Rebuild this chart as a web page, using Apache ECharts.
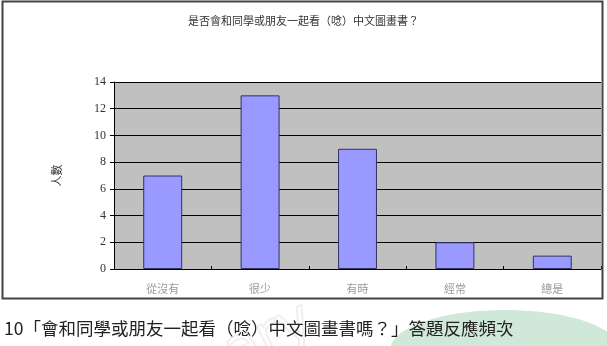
<!DOCTYPE html>
<html>
<head>
<meta charset="utf-8">
<script src="https://cdn.jsdelivr.net/npm/echarts@6/dist/echarts.min.js"></script>
<style>
html,body{margin:0;padding:0;background:#fff;}
#c{width:607px;height:346px;}
</style>
</head>
<body>
<div id="c"></div>
<script>
var chartTitle = '是否會和同學或朋友一起看（唸）中文圖畫書？';
var categories = ['從沒有', '很少', '有時', '經常', '總是'];
var counts = [7, 13, 9, 2, 1];
var yTicks = [0, 2, 4, 6, 8, 10, 12, 14];
var yAxisName = '人數';
var caption = '10「會和同學或朋友一起看（唸）中文圖畫書嗎？」答題反應頻次';

var chart = echarts.init(document.getElementById('c'), null, {renderer: 'canvas'});
var serif = '"Liberation Serif", "Noto Sans CJK TC", serif';
var cjk = '"Noto Sans CJK TC", sans-serif';
chart.setOption({
  animation: false,
  backgroundColor: '#fff',
  title: {
    text: chartTitle,
    left: 'center',
    top: 10,
    textStyle: {fontSize: 11, fontWeight: 'normal', color: '#333', fontFamily: cjk}
  },
  graphic: [
    {type: 'ellipse', shape: {cx: 505, cy: 350, rx: 115, ry: 40}, style: {fill: '#cfe8d8'}, z: -10},
    {type: 'text', left: 215, top: 292, rotation: 0.45,
     style: {text: 'ary', fontSize: 56, fill: 'rgba(0,0,0,0)', stroke: '#f0f0f0', lineWidth: 2, fontFamily: '"DejaVu Sans"'}, z: -5},
    {type: 'rect', shape: {x: 2.5, y: 1.5, width: 600, height: 297}, style: {fill: 'none', stroke: '#444', lineWidth: 2}, z: 10},
    {type: 'text', left: 4, top: 320, style: {text: caption, fontSize: 17.5, fill: '#222', fontFamily: cjk}, z: 5}
  ],
  grid: {left: 114, top: 82, right: 6, bottom: 77, show: true, backgroundColor: '#c0c0c0', borderWidth: 0},
  xAxis: {
    type: 'category',
    data: categories,
    axisLine: {show: true, lineStyle: {color: '#000', width: 1}},
    axisTick: {show: true, inside: true, length: 3, lineStyle: {color: '#000'}},
    axisLabel: {color: '#999', fontSize: 11, margin: 14, fontFamily: cjk},
    splitLine: {show: false}
  },
  yAxis: {
    type: 'value',
    min: yTicks[0],
    max: yTicks[yTicks.length - 1],
    interval: 2,
    name: yAxisName,
    nameLocation: 'middle',
    nameGap: 52,
    nameRotate: 90,
    nameTextStyle: {fontSize: 11, color: '#333', fontFamily: cjk},
    axisLine: {show: true, lineStyle: {color: '#000', width: 1}},
    axisTick: {show: true, inside: false, length: 4, lineStyle: {color: '#000'}},
    axisLabel: {color: '#333', fontSize: 12, margin: 8, fontFamily: serif},
    splitLine: {show: true, lineStyle: {color: '#000', width: 1}}
  },
  series: [{
    type: 'bar',
    data: counts,
    barWidth: '40%',
    itemStyle: {color: '#9999ff', borderColor: '#333366', borderWidth: 1}
  }]
});
</script>
</body>
</html>
